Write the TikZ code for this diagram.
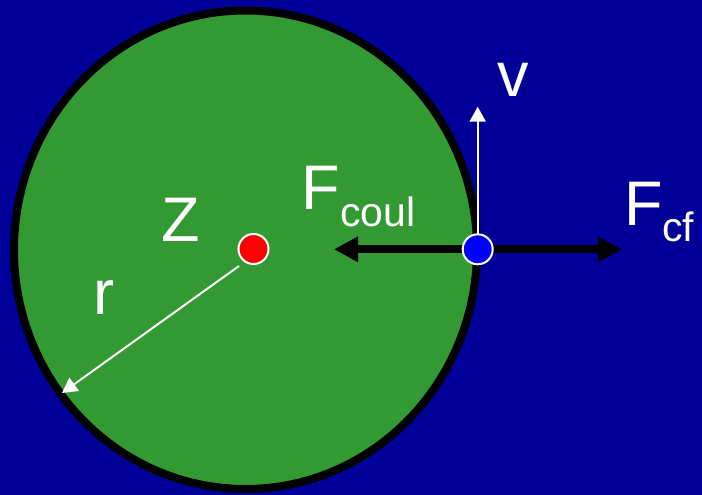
\documentclass[tikz,border=0pt]{standalone}
\usepackage{fontspec}
\setmainfont{Liberation Sans}
\usetikzlibrary{arrows.meta}
\definecolor{bgblue}{HTML}{000099}
\definecolor{cgreen}{HTML}{339933}
\pgfdeclarelayer{back}
\pgfdeclarelayer{mid}
\pgfsetlayers{back,mid,main}
\begin{document}
\begin{tikzpicture}[x=1pt,y=-1pt,
  lbl/.style={text=white,inner sep=0pt,anchor=base west,font=\fontsize{63}{63}\selectfont},
  dot/.style={circle,draw=white,line width=2pt,minimum size=30pt,inner sep=0pt},
  force/.style={line width=8pt,-{Triangle[length=24pt,width=24pt]}},
  thinarrow/.style={white,line width=2pt,-{Triangle[length=15pt,width=16pt]}}]
\useasboundingbox (0,0) rectangle (702,495);
\begin{pgfonlayer}{back}
\fill[bgblue] (0,0) rectangle (702,495);
\draw[fill=cgreen,line width=8pt] (245.5,249.75) ellipse [x radius=231.5, y radius=239.25];
\end{pgfonlayer}
\node[dot,fill=red] (Z) at (253.5,249) {};
\node[dot,fill=blue] (e) at (477.7,249.3) {};
\coordinate (fl) at (334,249.3);
\coordinate (fr) at (622,249.3);
\coordinate (vt) at (477.7,106.7);
\coordinate (rs) at (239,266);
\coordinate (re) at (62,393);
\begin{pgfonlayer}{mid}
\draw[force] (e.center) -- (fl);
\draw[force] (e.center) -- (fr);
\draw[thinarrow] (e.center) -- (vt);
\draw[thinarrow] (rs) -- (re);
\end{pgfonlayer}
\node[lbl] (tZ) at (161.4,241.5) {Z};
\node[lbl] (tFc) at (301.5,209) {F\raisebox{-17.7pt}{\fontsize{41}{41}\selectfont coul}};
\node[lbl] (tFcf) at (623.8,225) {F\raisebox{-16.5pt}{\fontsize{41}{41}\selectfont cf}};
\node[lbl] (tr) at (93.5,314) {r};
\node[lbl] (tv) at (497.6,96.7) {v};
\end{tikzpicture}
\end{document}
